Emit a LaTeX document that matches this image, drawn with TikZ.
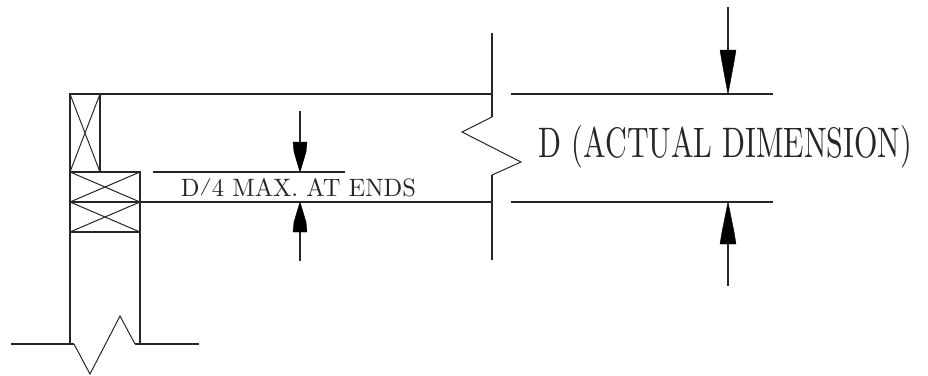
\documentclass[tikz,border=0pt]{standalone}
\usepackage{graphicx}
\tikzset{
  ln/.style={draw=black!85,line width=1.25pt,line cap=butt},
  thin ln/.style={draw=black!85,line width=1pt},
  head/.style={fill=black,draw=black,line width=0.4pt},
  lbl/.style={inner sep=0pt,anchor=center,text=black!85}
}
\begin{document}
\begin{tikzpicture}[x=1pt,y=-1pt]
\useasboundingbox (0,0) rectangle (928,375);
% column and beam
\draw[ln] (492,94) -- (70,94) -- (70,344);
\draw[ln] (100,94) -- (100,172);
\draw[ln] (70,172) -- (140,172) -- (140,344);
\draw[ln] (70,202) -- (492,202);
\draw[ln] (70,232) -- (140,232);
% crossed blocks
\draw[thin ln] (70,94) -- (100,172) (100,94) -- (70,172);
\draw[thin ln] (70,172) -- (140,202) (140,172) -- (70,202);
\draw[thin ln] (70,202) -- (140,232) (140,202) -- (70,232);
% column break line
\draw[ln] (11,344) -- (74,344);
\draw[thin ln] (74,344) -- (90,374) -- (120,316) -- (135,344);
\draw[ln] (135,344) -- (199,344);
% beam break line
\draw[ln] (492,33) -- (492,117);
\draw[thin ln] (492,117) -- (462,132) -- (521,162) -- (492,175);
\draw[ln] (492,175) -- (492,260);
% dimension lines
\draw[ln] (153,172) -- (345,172);
\draw[ln] (511,94) -- (773,94);
\draw[ln] (511,202) -- (773,202);
% arrows
\draw[ln] (300,111) -- (300,142);
\draw[head] (293,142) -- (307,142) -- (306,152) -- (300,172) -- (294,152) -- cycle;
\draw[ln] (300,232) -- (300,261);
\draw[head] (293,232) -- (307,232) -- (306,222) -- (300,202) -- (294,222) -- cycle;
\draw[ln] (728,7) -- (728,50);
\draw[head] (720,50) -- (736,50) -- (734,62) -- (728,94) -- (722,62) -- cycle;
\draw[ln] (728,244) -- (728,286);
\draw[head] (720,244) -- (736,244) -- (734,232) -- (728,202) -- (722,232) -- cycle;
% labels
\node[lbl] (ends) at (298.5,187.5) {\resizebox{235pt}{18pt}{D\raisebox{0.17em}{\scalebox{1}[0.68]{/}}4 MAX. AT ENDS}};
\node[lbl] (actual) at (725.5,147) {\resizebox{373pt}{32pt}{D (ACTUAL DIMENSION)}};
\end{tikzpicture}
\end{document}
